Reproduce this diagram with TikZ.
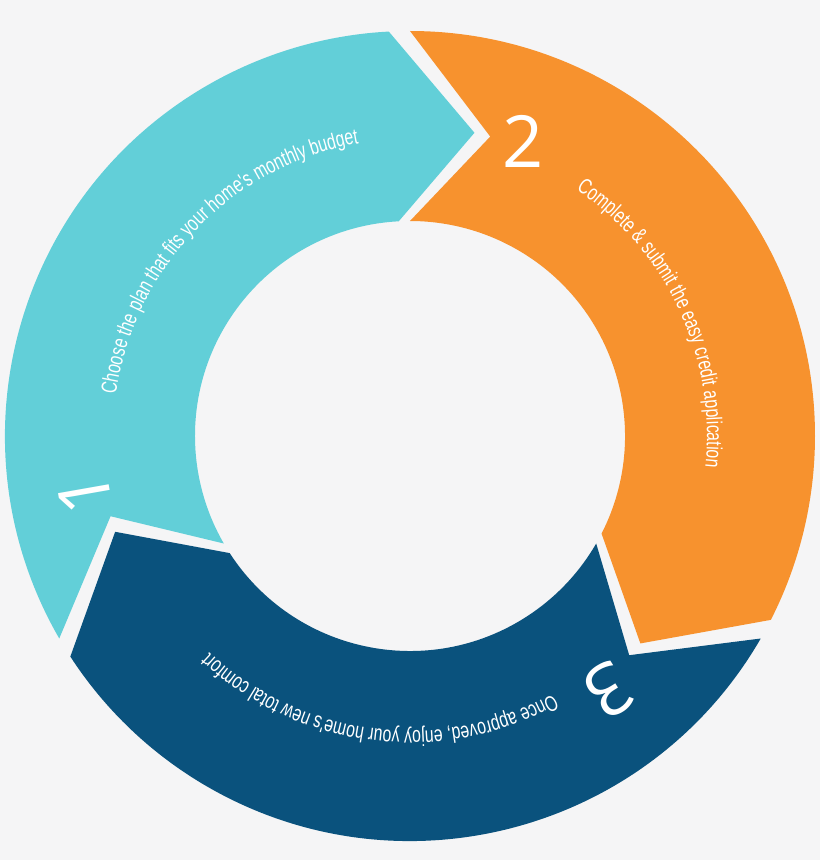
\documentclass[tikz,border=0pt]{standalone}
\usepackage{fontspec}
\newfontfamily\cond[FakeStretch=0.72]{Liberation Sans}
\newfontfamily\numf{Open Sans}
\usetikzlibrary{decorations.text}
\definecolor{bgc}{HTML}{F5F5F6}
\definecolor{teal1}{HTML}{62CFD8}
\definecolor{orng}{HTML}{F7922E}
\definecolor{navy}{HTML}{0A527D}
\tikzset{
 bignum/.style={text=white,font=\numf\fontsize{72}{72}\selectfont}
}
\begin{document}
\begin{tikzpicture}[x=1pt,y=1pt]
\fill[bgc] (-410,-424) rectangle (410,436);
\useasboundingbox (-410,-424) rectangle (410,436);
\fill[teal1] (210:405) arc[start angle=210,end angle=93,radius=405] -- (78:310) -- (93:215) arc[start angle=93,end angle=210,radius=215] -- (195:310) -- cycle;
\fill[orng] (90:405) arc[start angle=90,end angle=-27,radius=405] -- (-42:310) -- (-27:215) arc[start angle=-27,end angle=90,radius=215] -- (75:310) -- cycle;
\fill[navy] (-30:405) arc[start angle=-30,end angle=-147,radius=405] -- (-162:310) -- (-147:215) arc[start angle=-147,end angle=-30,radius=215] -- (-45:310) -- cycle;
\path[decorate,decoration={text along path,text align=left,text={|\cond\fontsize{22}{22}\selectfont\color{white}|Choose the plan that fits your home's monthly budget}}]
 (172:297) arc[start angle=172,end angle=60,radius=297];
\path[decorate,decoration={text along path,text align=left,text={|\cond\fontsize{22}{22}\selectfont\color{white}|Complete {\&} submit the easy credit application}}]
 (56:297) arc[start angle=56,end angle=-60,radius=297];
\path[decorate,decoration={text along path,text align=left,text={|\cond\fontsize{22}{22}\selectfont\color{white}|Once approved, enjoy your home's new total comfort}}]
 (-61:295) arc[start angle=-61,end angle=-175,radius=295];
\node[bignum,rotate=100] (n1) at (190:330) {1};
\node[bignum] (n2) at (69:316) {2};
\node[bignum,rotate=212] (n3) at (-52:322) {3};
\end{tikzpicture}
\end{document}
